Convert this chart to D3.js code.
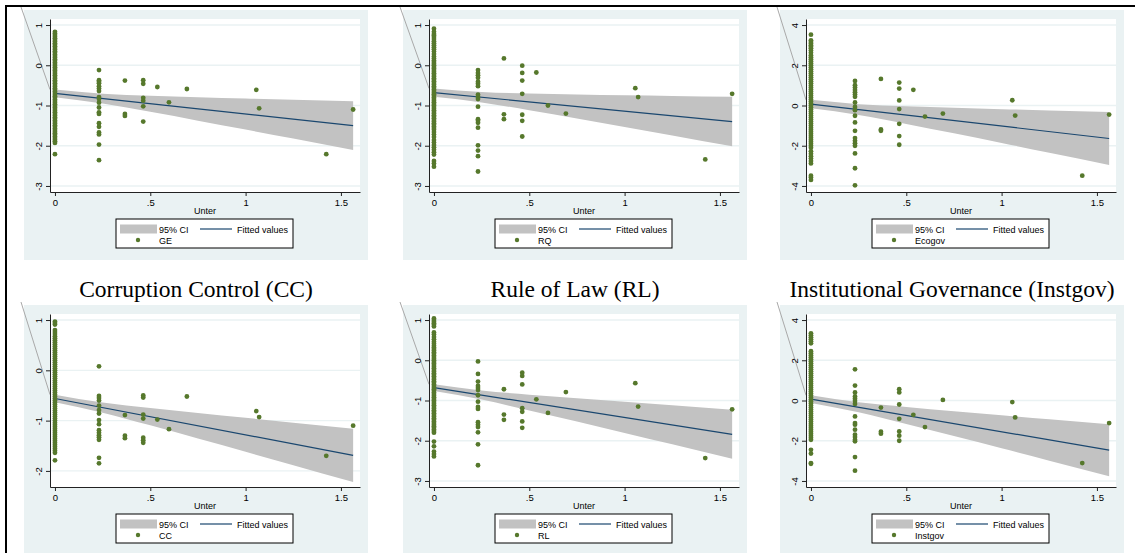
<!DOCTYPE html>
<html>
<head>
<meta charset="utf-8">
<script src="https://cdn.jsdelivr.net/npm/d3@7"></script>
<style>
  body { margin: 0; background: #fff; }
  svg { display: block; }
  text { font-family: "Liberation Sans", Arial, sans-serif; fill: #000; }
  .title { font-family: "Liberation Serif", "Times New Roman", serif; }
</style>
</head>
<body>
<svg id="chart" width="1135" height="553"></svg>
<script>

/*** DATA ***/

// distinct values of Unter (x), shared by every panel
let unterLevels = [0, 0.231, 0.367, 0.463, 0.537, 0.598, 0.692, 1.056, 1.071, 1.423, 1.564];

// y values, one list per Unter level
let geVals = [
  [0.83,0.79,0.75,0.71,0.67,0.63,0.59,0.55,0.51,0.47,0.43,0.39,0.35,0.31,0.27,0.23,0.19,0.15,0.11,0.07,0.03,-0.01,-0.05,-0.09,-0.13,-0.17,-0.21,-0.25,-0.29,-0.33,-0.37,-0.41,-0.45,-0.49,-0.53,-0.57,-0.61,-0.65,-0.69,-0.73,-0.77,-0.81,-0.85,-0.89,-0.93,-0.97,-1.01,-1.05,-1.09,-1.13,-1.17,-1.21,-1.25,-1.29,-1.33,-1.37,-1.41,-1.45,-1.49,-1.53,-1.57,-1.61,-1.65,-1.69,-1.73,-1.77,-1.81,-1.85,-1.89,-1.93,-2.21],
  [-0.12,-0.37,-0.41,-0.45,-0.52,-0.58,-0.64,-0.79,-0.84,-0.93,-1.05,-1.17,-1.21,-1.44,-1.53,-1.67,-1.72,-1.97,-2.36],
  [-0.38,-1.21,-1.26],
  [-0.37,-0.46,-0.81,-0.88,-1.02,-1.40],
  [-0.54], [-0.92], [-0.59], [-0.61], [-1.07], [-2.21], [-1.10]
];
let rqVals = [
  [0.91,0.83,0.78,0.74,0.70,0.65,0.60,0.55,0.50,0.45,0.40,0.34,0.28,0.22,0.17,0.12,0.08,0.04,0.00,-0.04,-0.08,-0.12,-0.16,-0.20,-0.24,-0.28,-0.32,-0.36,-0.40,-0.44,-0.48,-0.52,-0.56,-0.60,-0.64,-0.68,-0.72,-0.76,-0.80,-0.84,-0.88,-0.92,-0.96,-1.00,-1.04,-1.08,-1.12,-1.16,-1.20,-1.24,-1.28,-1.32,-1.36,-1.40,-1.44,-1.48,-1.52,-1.56,-1.60,-1.66,-1.72,-1.78,-1.86,-1.92,-1.98,-2.04,-2.10,-2.16,-2.22,-2.38,-2.44,-2.52],
  [-0.12,-0.19,-0.25,-0.31,-0.41,-0.46,-0.52,-0.73,-0.79,-0.84,-1.03,-1.34,-1.38,-1.43,-1.55,-1.99,-2.12,-2.26,-2.64],
  [0.17,-1.22,-1.34],
  [-0.01,-0.19,-0.38,-0.71,-1.23,-1.38,-1.77],
  [-0.18], [-1.00], [-1.20], [-0.57], [-0.79], [-2.34], [-0.71]
];
let ecogovVals = [
  [3.52,3.24,3.16,3.08,3.00,2.92,2.84,2.74,2.62,2.50,2.40,2.30,2.20,2.10,2.00,1.90,1.80,1.70,1.60,1.50,1.40,1.30,1.20,1.10,1.00,0.90,0.80,0.70,0.60,0.50,0.40,0.30,0.20,0.10,0.00,-0.10,-0.20,-0.30,-0.40,-0.50,-0.60,-0.70,-0.80,-0.90,-1.00,-1.10,-1.20,-1.30,-1.40,-1.50,-1.60,-1.70,-1.80,-1.90,-2.00,-2.10,-2.28,-2.40,-2.52,-2.64,-2.76,-2.88,-3.49,-3.58,-3.70],
  [1.22,1.01,0.89,0.77,0.66,0.55,0.43,0.15,-0.07,-0.23,-0.51,-0.84,-1.26,-1.62,-1.75,-1.88,-2.00,-2.38,-3.12,-3.97],
  [1.32,-1.19,-1.26],
  [1.14,0.84,0.25,-0.18,-0.91,-1.52,-1.95],
  [0.78], [-0.55], [-0.40], [0.26], [-0.50], [-3.49], [-0.45]
];
let ccVals = [
  [0.97,0.94,0.91,0.80,0.76,0.72,0.68,0.64,0.60,0.56,0.52,0.48,0.44,0.40,0.36,0.32,0.28,0.24,0.20,0.16,0.12,0.08,0.04,0.00,-0.04,-0.08,-0.12,-0.16,-0.20,-0.24,-0.28,-0.32,-0.36,-0.40,-0.44,-0.48,-0.52,-0.56,-0.60,-0.64,-0.68,-0.72,-0.76,-0.80,-0.84,-0.88,-0.92,-0.96,-1.00,-1.04,-1.08,-1.12,-1.16,-1.20,-1.24,-1.28,-1.32,-1.36,-1.40,-1.44,-1.48,-1.52,-1.56,-1.60,-1.64,-1.79],
  [0.08,-0.51,-0.55,-0.60,-0.70,-0.79,-0.86,-0.99,-1.07,-1.19,-1.24,-1.29,-1.33,-1.38,-1.74,-1.85],
  [-0.89,-1.30,-1.35],
  [-0.50,-0.54,-0.88,-0.96,-1.34,-1.39,-1.44],
  [-0.98], [-1.17], [-0.52], [-0.81], [-0.93], [-1.70], [-1.10]
];
let rlVals = [
  [1.04,1.00,0.96,0.92,0.88,0.84,0.69,0.64,0.58,0.52,0.46,0.41,0.36,0.32,0.28,0.24,0.20,0.16,0.12,0.08,0.04,0.00,-0.04,-0.08,-0.12,-0.16,-0.20,-0.24,-0.28,-0.32,-0.36,-0.40,-0.44,-0.48,-0.52,-0.56,-0.60,-0.64,-0.68,-0.72,-0.76,-0.80,-0.84,-0.88,-0.92,-0.96,-1.00,-1.04,-1.08,-1.12,-1.16,-1.20,-1.24,-1.28,-1.32,-1.36,-1.40,-1.44,-1.48,-1.52,-1.56,-1.60,-1.64,-1.68,-1.72,-1.76,-1.80,-2.02,-2.14,-2.27,-2.33,-2.39],
  [-0.03,-0.34,-0.53,-0.64,-0.69,-0.74,-0.87,-1.03,-1.16,-1.21,-1.54,-1.60,-1.66,-1.79,-2.09,-2.61],
  [-0.72,-1.35,-1.48],
  [-0.31,-0.39,-0.60,-1.19,-1.28,-1.52,-1.68],
  [-0.97], [-1.31], [-0.79], [-0.57], [-1.15], [-2.43], [-1.22]
];
let instgovVals = [
  [3.34,3.24,3.14,3.04,2.94,2.84,2.45,2.35,2.25,2.15,2.05,1.95,1.85,1.75,1.65,1.55,1.45,1.35,1.25,1.15,1.05,0.95,0.85,0.75,0.65,0.55,0.45,0.35,0.25,0.15,0.05,-0.05,-0.15,-0.25,-0.35,-0.45,-0.55,-0.65,-0.75,-0.85,-0.95,-1.05,-1.15,-1.25,-1.35,-1.45,-1.55,-1.65,-1.75,-1.85,-1.95,-2.45,-2.64,-3.11,-3.15],
  [1.55,0.74,0.40,0.20,0.09,-0.03,-0.17,-0.79,-1.12,-1.20,-1.45,-1.70,-1.82,-1.95,-2.03,-2.81,-3.49],
  [-0.35,-1.55,-1.65],
  [0.56,0.40,-0.20,-0.91,-1.54,-1.75,-2.00],
  [-0.71], [-1.32], [0.03], [-0.08], [-0.84], [-3.11], [-1.12]
];

// fitted line (at Unter = 0 and at max) and 95% CI read at ciX
let fitX = [0, 1.564];
let ciX  = [0, 0.25, 0.5, 0.75, 1, 1.25, 1.564];

let geFit = [-0.70, -1.50];
let geHi  = [-0.605, -0.706, -0.755, -0.792, -0.825, -0.856, -0.895];
let geLo  = [-0.795, -0.950, -1.157, -1.376, -1.598, -1.822, -2.105];

let rqFit = [-0.68, -1.40];
let rqHi  = [-0.575, -0.665, -0.703, -0.727, -0.746, -0.764, -0.785];
let rqLo  = [-0.785, -0.925, -1.117, -1.323, -1.534, -1.746, -2.015];

let ecogovFit = [0.07, -1.64];
let ecogovHi  = [0.28, 0.065, -0.040, -0.115, -0.183, -0.246, -0.325];
let ecogovLo  = [-0.14, -0.471, -0.914, -1.385, -1.863, -2.346, -2.955];

let ccFit = [-0.56, -1.69];
let ccHi  = [-0.484, -0.640, -0.748, -0.848, -0.944, -1.040, -1.160];
let ccLo  = [-0.636, -0.842, -1.094, -1.356, -1.620, -1.886, -2.220];

let rlFit = [-0.68, -1.84];
let rlHi  = [-0.597, -0.752, -0.854, -0.944, -1.032, -1.120, -1.232];
let rlLo  = [-0.763, -0.978, -1.247, -1.524, -1.806, -2.089, -2.448];

let instgovFit = [0.07, -2.47];
let instgovHi  = [0.26, -0.086, -0.320, -0.529, -0.732, -0.931, -1.180];
let instgovLo  = [-0.12, -0.586, -1.164, -1.767, -2.376, -2.989, -3.760];

// axis ticks
let xTicks      = [0, 0.5, 1, 1.5],
    xTickLabels = ["0", ".5", "1", "1.5"];
let yTicksWide  = [-3, -2, -1, 0, 1],
    yTicksIndex = [-4, -2, 0, 2, 4],
    yTicksCC    = [-2, -1, 0, 1];

let seriesNames  = ["GE", "RQ", "Ecogov", "CC", "RL", "Instgov"];
let panelTitles  = ["", "", "", "Corruption Control (CC)", "Rule of Law (RL)", "Institutional Governance (Instgov)"];

/*** LAYOUT ***/

let svg = d3.select("#chart");

let panelW = 344, panelH = 250;
let colX = [24, 403, 780],
    rowY = [10, 305];
let plot = {left: 26, right: 336, top: 9, bottom: 182};
let xDomain = [-0.026, 1.6];

let colors = {bg: "#eaf2f3", dot: "#56782c", ci: "#c2c2c2", fit: "#1a476f", axis: "#222"};

let panels = [
  {vals: geVals,      fit: geFit,      hi: geHi,      lo: geLo,      ticks: yTicksWide,  yDom: [-3.15, 1.15]},
  {vals: rqVals,      fit: rqFit,      hi: rqHi,      lo: rqLo,      ticks: yTicksWide,  yDom: [-3.15, 1.15]},
  {vals: ecogovVals,  fit: ecogovFit,  hi: ecogovHi,  lo: ecogovLo,  ticks: yTicksIndex, yDom: [-4.3, 4.3]},
  {vals: ccVals,      fit: ccFit,      hi: ccHi,      lo: ccLo,      ticks: yTicksCC,    yDom: [-2.32, 1.12]},
  {vals: rlVals,      fit: rlFit,      hi: rlHi,      lo: rlLo,      ticks: yTicksWide,  yDom: [-3.15, 1.15]},
  {vals: instgovVals, fit: instgovFit, hi: instgovHi, lo: instgovLo, ticks: yTicksIndex, yDom: [-4.3, 4.3]}
];

/*** DRAW ***/

function drawPanel(p, i) {
    let bx = colX[i % 3], by = rowY[Math.floor(i / 3)];
    let g = svg.append("g").attr("transform", `translate(${bx},${by})`);

    let x = d3.scaleLinear().domain(xDomain).range([plot.left, plot.right]),
        y = d3.scaleLinear().domain(p.yDom).range([plot.bottom, plot.top]);

    // backgrounds
    g.append("rect").attr("width", panelW).attr("height", panelH).attr("fill", colors.bg);
    g.append("rect")
        .attr("x", plot.left).attr("y", plot.top)
        .attr("width", plot.right - plot.left).attr("height", plot.bottom - plot.top)
        .attr("fill", "#fff");

    // gridlines
    g.selectAll(".grid").data(p.ticks).enter().append("line")
        .attr("x1", plot.left).attr("x2", plot.right)
        .attr("y1", d => y(d)).attr("y2", d => y(d))
        .attr("stroke", colors.bg).attr("stroke-width", 1.4);

    // confidence band
    let ci = ciX.map((v, k) => ({x: v, lo: p.lo[k], hi: p.hi[k]}));
    g.append("path").datum(ci)
        .attr("fill", colors.ci)
        .attr("d", d3.area().curve(d3.curveMonotoneX)
            .x(d => x(d.x)).y0(d => y(d.lo)).y1(d => y(d.hi)));

    // stray diagonal stroke running into the band
    g.append("line")
        .attr("x1", -3).attr("y1", -3)
        .attr("x2", x(xDomain[0])).attr("y2", y(p.hi[0]))
        .attr("stroke", "#a9a9a9").attr("stroke-width", 1);

    // fitted line
    g.append("path").datum(fitX.map((v, k) => [v, p.fit[k]]))
        .attr("fill", "none").attr("stroke", colors.fit).attr("stroke-width", 1.2)
        .attr("d", d3.line().x(d => x(d[0])).y(d => y(d[1])));

    // scatter
    let pts = [];
    p.vals.forEach((list, k) => list.forEach(v => pts.push([unterLevels[k], v])));
    g.selectAll(".dot").data(pts).enter().append("circle")
        .attr("cx", d => x(d[0])).attr("cy", d => y(d[1]))
        .attr("r", 2.4).attr("fill", colors.dot);

    // y axis
    let ya = g.append("g").attr("transform", `translate(${plot.left},0)`)
        .call(d3.axisLeft(y).tickValues(p.ticks).tickSize(4).tickSizeOuter(0).tickFormat(d => String(d)));
    ya.selectAll("text")
        .attr("transform", "rotate(-90)")
        .attr("x", 0).attr("y", -11.5).attr("dy", "0.35em")
        .attr("text-anchor", "middle")
        .style("font-size", "9.5px").style("font-family", "Liberation Sans, Arial, sans-serif");

    // x axis
    let xa = g.append("g").attr("transform", `translate(0,${plot.bottom})`)
        .call(d3.axisBottom(x).tickValues(xTicks).tickSize(4).tickSizeOuter(0)
            .tickFormat((d, k) => xTickLabels[k]));
    xa.selectAll("text").style("font-size", "9.5px").style("font-family", "Liberation Sans, Arial, sans-serif");

    [ya, xa].forEach(a => {
        a.select(".domain").attr("stroke", colors.axis);
        a.selectAll(".tick line").attr("stroke", colors.axis);
    });

    g.append("text")
        .attr("x", (plot.left + plot.right) / 2).attr("y", 203.5)
        .attr("text-anchor", "middle").style("font-size", "9px")
        .text("Unter");

    // legend
    let lg = g.append("g").attr("transform", "translate(92,209)");
    lg.append("rect").attr("width", 177).attr("height", 29)
        .attr("fill", "#fff").attr("stroke", "#000").attr("stroke-width", 1);
    lg.append("rect").attr("x", 4).attr("y", 5.5).attr("width", 37).attr("height", 9).attr("fill", colors.ci);
    lg.append("text").attr("x", 43).attr("y", 13.5).style("font-size", "9px").text("95% CI");
    lg.append("line").attr("x1", 84).attr("x2", 116).attr("y1", 10).attr("y2", 10)
        .attr("stroke", colors.fit).attr("stroke-width", 1.2);
    lg.append("text").attr("x", 121).attr("y", 13.5).style("font-size", "9px").text("Fitted values");
    lg.append("circle").attr("cx", 22).attr("cy", 21).attr("r", 2.2).attr("fill", colors.dot);
    lg.append("text").attr("x", 43).attr("y", 24.5).style("font-size", "9px").text(seriesNames[i]);

    // panel title
    if (panelTitles[i]) {
        g.append("text").attr("class", "title")
            .attr("x", panelW / 2).attr("y", -8)
            .attr("text-anchor", "middle").style("font-size", "23.5px")
            .text(panelTitles[i]);
    }
}

panels.forEach(drawPanel);

// outer frame (top and left rules)
svg.append("line").attr("x1", 5).attr("x2", 1135).attr("y1", 6).attr("y2", 6)
    .attr("stroke", "#000").attr("stroke-width", 2);
svg.append("line").attr("x1", 6).attr("x2", 6).attr("y1", 5).attr("y2", 553)
    .attr("stroke", "#000").attr("stroke-width", 2);

</script>
</body>
</html>
